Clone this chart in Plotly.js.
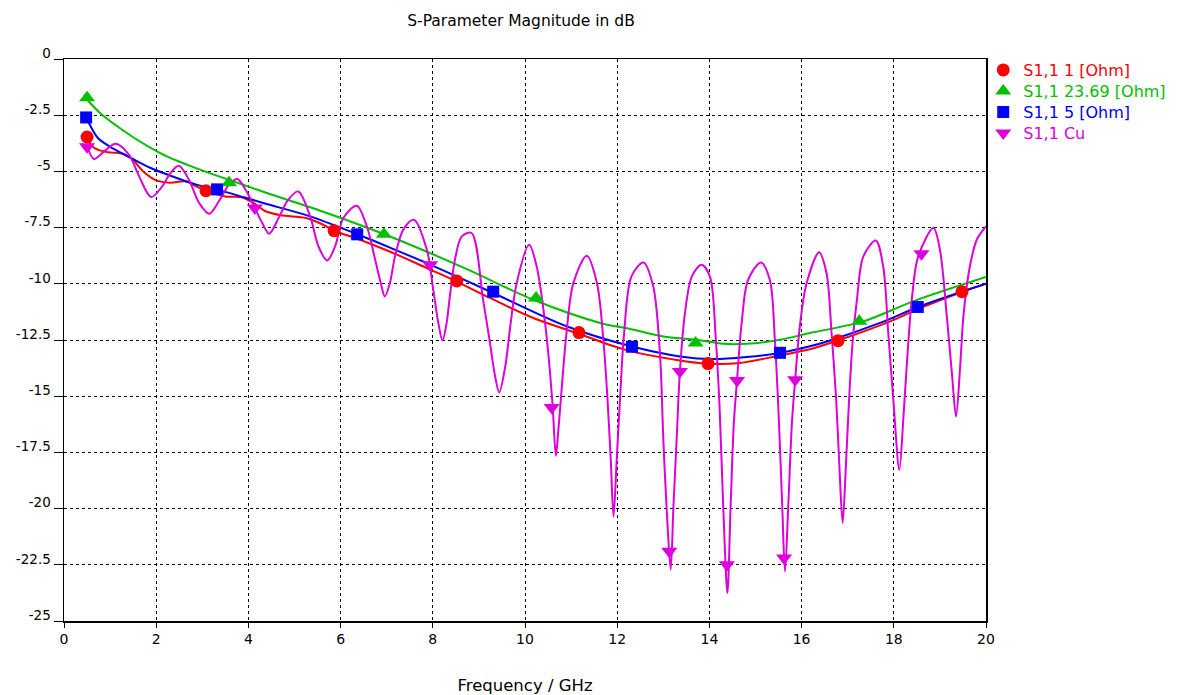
<!DOCTYPE html>
<html>
<head>
<meta charset="utf-8">
<script src="https://cdn.plot.ly/plotly-3.0.1.min.js"></script>
<style>html,body{margin:0;padding:0;background:#fff;}#chart{width:1178px;height:695px;}</style>
</head>
<body>
<div id="chart"></div>
<script>
// ---- Data (Frequency in GHz, magnitude in dB) ----
var redF  = [0.5,0.65,0.95,1.25,1.45,1.72,2.0,2.3,2.65,2.9,3.1,3.5,3.85,4.15,4.35,4.7,5.25,5.6,5.86,6.42,7.14,7.87,8.52,9.24,10.18,11.12,12.2,13.36,13.94,14.66,15.5,16.2,16.83,17.92,18.57,19.51,20.0];
var redDB = [-3.5,-3.95,-4.15,-4.2,-4.4,-5.0,-5.4,-5.5,-5.45,-5.7,-5.87,-6.12,-6.15,-6.45,-6.75,-6.95,-7.07,-7.35,-7.64,-8.04,-8.63,-9.3,-9.9,-10.63,-11.52,-12.19,-12.95,-13.41,-13.55,-13.52,-13.2,-12.9,-12.49,-11.67,-11.08,-10.34,-10.0];
var redMkF  = [0.5,3.08,5.86,8.52,11.17,13.97,16.79,19.48];
var redMkDB = [-3.47,-5.86,-7.64,-9.87,-12.17,-13.55,-12.53,-10.35];

var greenF  = [0.5,0.78,1.14,1.5,1.87,2.23,2.95,3.67,4.4,5.7,7.14,8.74,10.18,11.63,12.28,13.0,13.72,14.3,14.81,15.53,16.18,17.34,18.42,20.0];
var greenDB = [-1.8,-2.4,-2.97,-3.48,-3.94,-4.33,-4.92,-5.44,-5.96,-6.85,-7.95,-9.35,-10.71,-11.74,-12.01,-12.34,-12.49,-12.67,-12.67,-12.49,-12.19,-11.67,-10.78,-9.7];
var greenMkF  = [0.5,3.58,6.94,10.24,13.7,17.25];
var greenMkDB = [-1.72,-5.5,-7.8,-10.63,-12.63,-11.67];

var blueF  = [0.48,0.62,0.75,1.08,1.45,1.88,2.39,2.89,3.33,3.9,4.34,5.34,6.27,7.14,7.87,8.59,9.31,10.9,12.3,13.36,14.08,14.81,15.53,16.18,16.62,17.7,18.57,20.0];
var blueDB = [-2.6,-3.15,-3.55,-4.0,-4.4,-4.85,-5.25,-5.6,-5.81,-6.15,-6.42,-7.0,-7.72,-8.45,-9.08,-9.74,-10.41,-11.89,-12.78,-13.23,-13.35,-13.26,-13.08,-12.78,-12.52,-11.74,-11.0,-10.0];
var blueMkF  = [0.48,3.32,6.36,9.31,12.32,15.53,18.52];
var blueMkDB = [-2.6,-5.8,-7.8,-10.35,-12.8,-13.07,-11.03];

var cuF  = [0.5,0.65,0.87,1.12,1.41,1.63,1.89,2.13,2.31,2.49,2.71,2.93,3.15,3.36,3.58,3.76,3.95,4.14,4.3,4.45,4.65,4.85,5.08,5.34,5.52,5.71,5.88,6.06,6.35,6.57,6.75,6.87,6.96,7.07,7.18,7.36,7.59,7.87,8.01,8.12,8.21,8.30,8.37,8.48,8.63,8.84,9.09,9.24,9.35,9.44,9.57,9.68,9.82,10.09,10.25,10.40,10.51,10.60,10.67,10.72,10.80,10.90,11.05,11.34,11.56,11.70,11.79,11.86,11.92,11.99,12.06,12.15,12.31,12.57,12.78,12.93,13.00,13.07,13.16,13.22,13.29,13.36,13.47,13.62,13.83,14.01,14.14,14.22,14.30,14.39,14.46,14.53,14.60,14.70,14.84,15.12,15.31,15.42,15.51,15.58,15.64,15.71,15.79,15.86,15.97,16.11,16.38,16.54,16.65,16.75,16.82,16.89,16.96,17.03,17.11,17.20,17.34,17.61,17.77,17.88,17.99,18.12,18.21,18.28,18.39,18.53,18.86,19.00,19.15,19.26,19.35,19.44,19.51,19.65,19.80,20.00];
var cuDB = [-3.85,-4.45,-4.11,-3.77,-4.26,-5.22,-6.14,-5.67,-5.07,-4.75,-5.37,-6.4,-6.88,-6.33,-5.59,-5.34,-5.85,-6.63,-7.3,-7.77,-7.1,-6.3,-5.89,-7.0,-8.34,-8.96,-8.34,-7.07,-6.53,-7.45,-8.93,-9.96,-10.56,-9.96,-8.78,-7.59,-7.15,-8.48,-10.26,-11.74,-12.52,-11.74,-10.56,-8.93,-7.89,-7.74,-10.7,-12.63,-14.1,-14.83,-13.7,-11.9,-9.96,-8.26,-9.2,-11.15,-13.2,-15.45,-17.65,-16.6,-14.56,-12.19,-9.96,-8.75,-9.96,-12.49,-15.16,-17.8,-20.35,-17.8,-15.16,-12.19,-9.67,-9.05,-10.1,-13.2,-16.9,-19.9,-22.72,-19.9,-16.9,-13.9,-11.3,-9.67,-9.15,-9.67,-12.49,-15.45,-19.9,-23.76,-19.9,-16.2,-14.27,-11.74,-9.82,-9.05,-9.82,-12.49,-16.2,-19.9,-22.8,-19.9,-16.2,-14.27,-11.74,-9.96,-8.6,-9.52,-12.19,-15.16,-18.12,-20.64,-18.12,-15.16,-12.49,-10.71,-8.78,-8.07,-9.23,-12.19,-15.16,-18.27,-15.9,-13.67,-10.71,-8.78,-7.52,-8.48,-11.45,-13.97,-15.9,-13.67,-11.45,-9.23,-8.04,-7.45];
var cuMkF  = [0.5,4.14,7.94,10.58,13.13,13.36,14.38,14.6,15.62,15.86,18.6];
var cuMkDB = [-3.9,-6.63,-9.15,-15.5,-21.9,-13.9,-22.5,-14.3,-22.2,-14.27,-8.66];

var seriesNames = ['S1,1 1 [Ohm]','S1,1 23.69 [Ohm]','S1,1 5 [Ohm]','S1,1 Cu'];
var yTicks = [0,-2.5,-5,-7.5,-10,-12.5,-15,-17.5,-20,-22.5,-25];
var yTickText = ['0','-2.5','-5','-7.5','-10','-12.5','-15','-17.5','-20','-22.5','-25'];
var xTicks = [0,2,4,6,8,10,12,14,16,18,20];

var colors = ['#FF0000','#00C000','#0000FF','#DD00DD'];
var symbols = ['circle','triangle-up','square','triangle-down'];
var msizes = [13,14,12,14];
var legendIds = ['legend','legend2','legend3','legend4'];
var legendY = [0.9804,0.9431,0.9057,0.8683];

var lineSets = [[redF,redDB],[greenF,greenDB],[blueF,blueDB],[cuF,cuDB]];
var mkSets = [[redMkF,redMkDB],[greenMkF,greenMkDB],[blueMkF,blueMkDB],[cuMkF,cuMkDB]];

var fontFam = 'DejaVu Sans, Verdana, sans-serif';
var traces = [];
for (var i=0;i<4;i++){
  traces.push({x:lineSets[i][0], y:lineSets[i][1], mode:'lines', type:'scatter',
    line:{color:colors[i], width:2, shape:'spline', smoothing:0.9},
    showlegend:false, hoverinfo:'skip'});
}
for (var i=0;i<4;i++){
  traces.push({x:mkSets[i][0], y:mkSets[i][1], mode:'markers', type:'scatter',
    marker:{color:colors[i], symbol:symbols[i], size:msizes[i], line:{width:0}},
    name:'<span style="color:'+colors[i]+'">'+seriesNames[i]+'</span>',
    legend:legendIds[i], showlegend:true});
}

var layout = {
  width:1178, height:695,
  paper_bgcolor:'#ffffff', plot_bgcolor:'#ffffff',
  margin:{l:64, r:192, t:59, b:74, autoexpand:false},
  font:{family:fontFam, size:13.5, color:'#000'},
  title:{text:'S-Parameter Magnitude in dB', font:{family:fontFam, size:15.5, color:'#000'},
    xref:'container', x:0.4423, xanchor:'center', yref:'container', y:0.971, yanchor:'middle'},
  xaxis:{range:[0,20], tickvals:xTicks, ticktext:xTicks.map(String),
    showgrid:true, gridcolor:'#000', griddash:'3px,3px', gridwidth:1,
    showline:true, linecolor:'#000', linewidth:1.5, mirror:true,
    ticks:'outside', ticklen:5, tickcolor:'#000', tickwidth:1,
    zeroline:false, tickfont:{family:fontFam, size:14, color:'#000'},
    title:{text:'Frequency / GHz', font:{family:fontFam, size:16.5, color:'#000'}, standoff:33},
    automargin:false, fixedrange:true},
  yaxis:{range:[-25,0], tickvals:yTicks, ticktext:yTickText,
    showgrid:true, gridcolor:'#000', griddash:'3px,3px', gridwidth:1,
    showline:true, linecolor:'#000', linewidth:1.5, mirror:true,
    ticks:'outside', ticklen:9, tickcolor:'#000', tickwidth:1,
    zeroline:false, tickfont:{family:fontFam, size:13.5, color:'#000'},
    ticklabelshift:-6, automargin:false, fixedrange:true},
  showlegend:true,
  hovermode:false
};
for (var i=0;i<4;i++){
  layout[legendIds[i]] = {x:0.997, xanchor:'left', y:legendY[i], yanchor:'middle',
    bgcolor:'rgba(0,0,0,0)', borderwidth:0, font:{family:fontFam, size:16, color:'#000'},
    itemclick:false, itemdoubleclick:false};
}
Plotly.newPlot('chart', traces, layout, {displayModeBar:false, staticPlot:true});
</script>
</body>
</html>
